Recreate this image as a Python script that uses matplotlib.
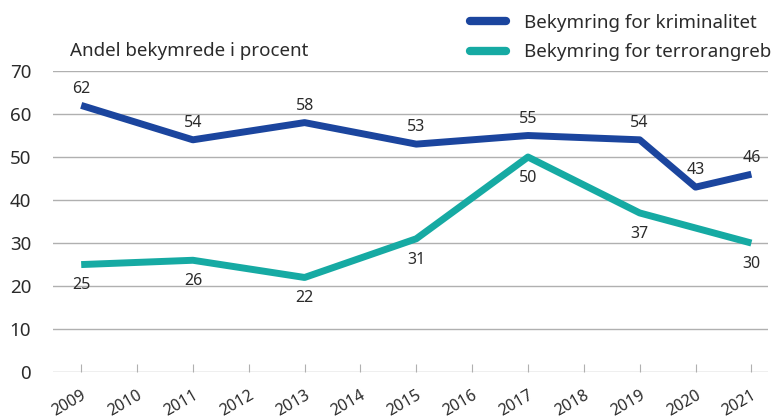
import matplotlib
matplotlib.use("Agg")
from matplotlib import pyplot as plt

plt.rcParams['font.family'] = ['Noto Sans', 'DejaVu Sans']

# data
years = [2009, 2011, 2013, 2015, 2017, 2019, 2020, 2021]
krim = [62, 54, 58, 53, 55, 54, 43, 46]
terror = [25, 26, 22, 31, 50, 37, 30]
terror_years = [2009, 2011, 2013, 2015, 2017, 2019, 2021]
all_years = list(range(2009, 2022))
yticks = [0, 10, 20, 30, 40, 50, 60, 70]

blue = "#1b459e"
teal = "#16aaa3"
txt = "#2b2b2b"

fig = plt.figure(figsize=(7.72, 4.2), dpi=100)
ax = fig.add_axes([0.069, 0.114, 0.926, 0.717])

for y in yticks:
    ax.axhline(y, color="#b0b0b0", lw=1, zorder=0)

ax.plot(years, krim, color=blue, lw=5, solid_capstyle="butt", solid_joinstyle="round",
        label="Bekymring for kriminalitet")
ax.plot(terror_years, terror, color=teal, lw=5, solid_capstyle="butt", solid_joinstyle="round",
        label="Bekymring for terrorangreb")

# data labels
for x, v in zip(years, krim):
    ax.annotate(str(v), (x, v), xytext=(0, 12), textcoords="offset points",
                ha="center", va="center", fontsize=11.5, color=txt)
for x, v in zip(terror_years, terror):
    ax.annotate(str(v), (x, v), xytext=(0, -15), textcoords="offset points",
                ha="center", va="center", fontsize=11.5, color=txt)

ax.set_xlim(2008.5, 2021.3)
ax.set_ylim(0, 70)
ax.set_yticks(yticks)
ax.set_xticks(all_years)
ax.set_xticklabels([str(y) for y in all_years], rotation=30, ha="right",
                   rotation_mode="anchor", fontsize=11.5, color=txt)
ax.tick_params(axis="y", length=0, labelsize=13.5, labelcolor=txt, pad=16)
ax.tick_params(axis="x", direction="in", length=6, color="#b0b0b0", pad=11)
for s in ax.spines.values():
    s.set_visible(False)

ax.text(0.023, 1.035, "Andel bekymrede i procent", transform=ax.transAxes,
        fontsize=13.5, color=txt, va="bottom")

leg = fig.legend(loc="upper left", bbox_to_anchor=(0.587, 1.008), frameon=False,
                 fontsize=13.5, handlelength=1.9, handletextpad=1.0, labelspacing=0.62)
for t in leg.get_texts():
    t.set_color(txt)
for h in leg.get_lines():
    h.set_linewidth(6)
    h.set_solid_capstyle("round")

fig.savefig("out.png", dpi=100)
